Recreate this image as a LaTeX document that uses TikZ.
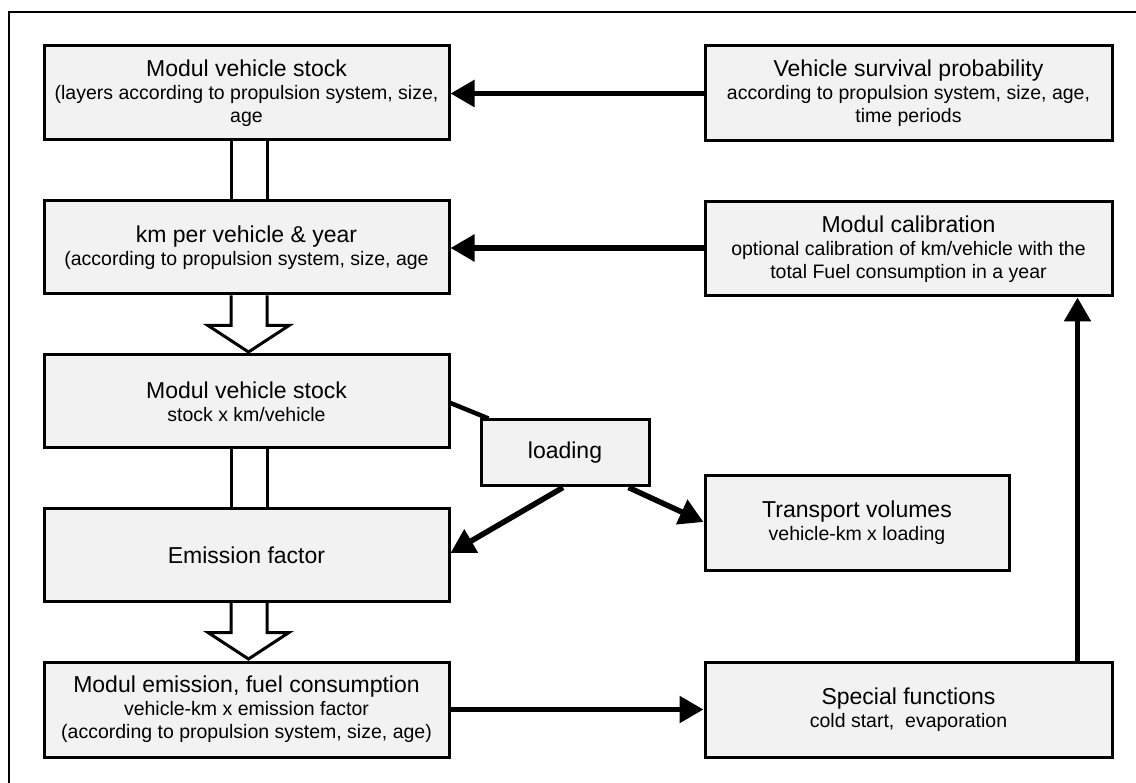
\documentclass[tikz,border=0pt]{standalone}
\usepackage{fontspec}
\setmainfont{Liberation Sans}
\usetikzlibrary{arrows.meta,calc}
\definecolor{boxfill}{RGB}{242,242,242}
\newcommand\ttl{\fontsize{23}{25}\selectfont}
\newcommand\subt{\fontsize{19.5}{23}\selectfont}
\begin{document}
\begin{tikzpicture}[x=1pt,y=-1pt,
  box/.style={draw=black,fill=boxfill,line width=3pt,rectangle,inner sep=0pt,align=center,font=\subt},
  lbox/.style={box,minimum width=405pt},
  rbox/.style={box,minimum width=407pt},
  flow/.style={line width=5.5pt,-{Triangle[length=24pt,width=26pt]}},
  link/.style={line width=4.5pt},
  hollow/.style={draw=black,line width=3pt,line join=miter}]
\useasboundingbox (0,0) rectangle (1136,783);
\draw[line width=2.5pt] (9,783) -- (9,12) -- (1136,12);

\node[lbox,minimum height=94pt] (b1) at (246.5,93) {{\ttl Modul vehicle stock}\\(layers according to propulsion system, size,\\age};
\node[lbox,minimum height=93pt] (b2) at (246.5,247.5) {{\ttl km per vehicle \& year}\\(according to propulsion system, size, age};
\node[lbox,minimum height=93pt] (b3) at (246.5,401.5) {{\ttl Modul vehicle stock}\\stock x km/vehicle};
\node[lbox,minimum height=92pt,font=\ttl] (b4) at (246.5,555) {Emission factor};
\node[lbox,minimum height=95pt] (b5) at (246.5,709.5) {{\ttl Modul emission, fuel consumption}\\vehicle-km x emission factor\\(according to propulsion system, size, age)};
\node[rbox,minimum height=95pt] (r1) at (908.5,93.5) {{\ttl Vehicle survival probability}\\according to propulsion system, size, age,\\time periods};
\node[rbox,minimum height=94pt] (r2) at (908.5,249) {{\ttl Modul calibration}\\optional calibration of km/vehicle with the\\total Fuel consumption in a year};
\node[box,minimum width=304pt,minimum height=94pt] (tv) at (857,523) {{\ttl Transport volumes}\\vehicle-km x loading};
\node[rbox,minimum height=95pt] (sf) at (908.5,709.5) {{\ttl Special functions}\\cold start,\ \ evaporation};
\node[box,minimum width=168pt,minimum height=66pt,font=\ttl] (ld) at (565,453) {loading};

% hollow block connectors
\draw[hollow] ($(b1.south)+(-15.5,0)$) -- ($(b2.north)+(-15.5,0)$);
\draw[hollow] ($(b1.south)+(20.5,0)$) -- ($(b2.north)+(20.5,0)$);
\draw[hollow] ($(b2.south)+(-15.5,0)$) |- ($(b3.north)+(-38.5,-28)$) -- ($(b3.north)+(2,-1.5)$) -- ($(b3.north)+(42.5,-28)$) -| ($(b2.south)+(20.5,0)$);
\draw[hollow] ($(b3.south)+(-15.5,0)$) -- ($(b4.north)+(-15.5,0)$);
\draw[hollow] ($(b3.south)+(20.5,0)$) -- ($(b4.north)+(20.5,0)$);
\draw[hollow] ($(b4.south)+(-15.5,0)$) |- ($(b5.north)+(-38.5,-28)$) -- ($(b5.north)+(2,-1.5)$) -- ($(b5.north)+(42.5,-28)$) -| ($(b4.south)+(20.5,0)$);

% solid connectors
\draw[flow] (r1.west) -- (r1.west -| b1.east);
\draw[flow] ($(r2.west)+(0,-1)$) -- ($(r2.west -| b2.east)+(0,-1)$);
\draw[flow] (b5.east) -- (b5.east -| sf.west);
\draw[flow] ($(sf.north east)+(-36,0)$) -- ($(r2.south east)+(-36,0)$);
\draw[link] ($(b3.east)+(0,1.5)$) -- ($(ld.north west)+(9,0)$);
\draw[flow] ($(ld.south)+(-2,0)$) -- ($(b4.east)+(0,-2)$);
\draw[flow] ($(ld.south east)+(-22,0)$) -- ($(tv.west)+(0,-1)$);
\end{tikzpicture}
\end{document}
